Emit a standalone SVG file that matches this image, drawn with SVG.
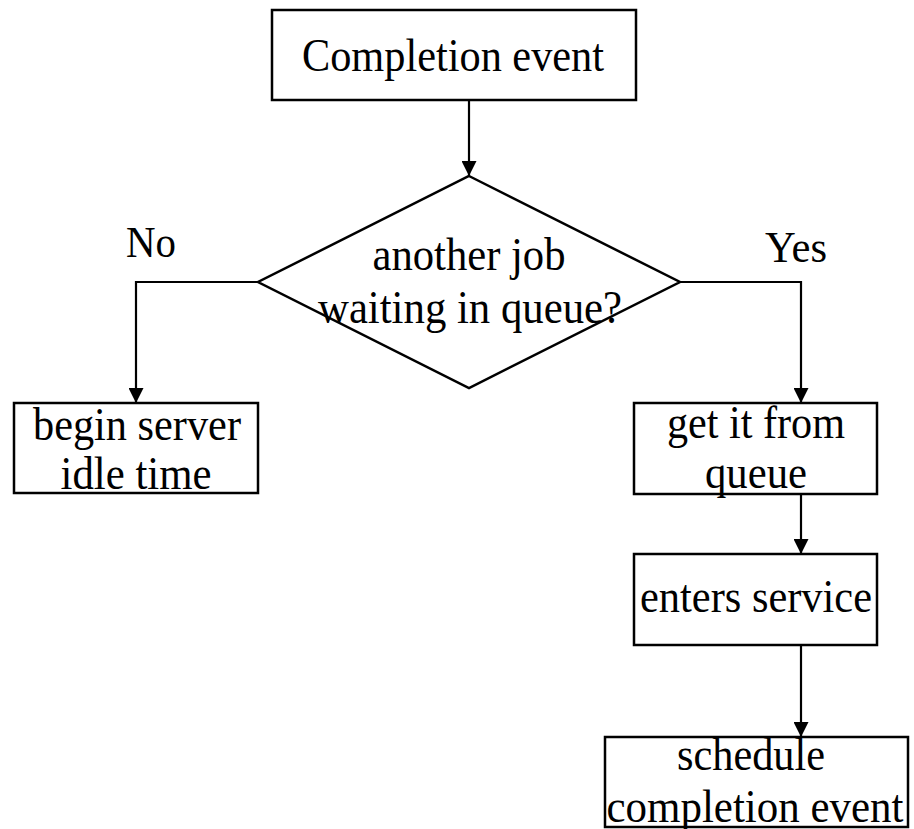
<svg xmlns="http://www.w3.org/2000/svg" width="914" height="829" viewBox="0 0 914 829">
  <style>
    .box { fill: #fff; stroke: #000; stroke-width: 2.5; }
    .lbl { font-family: "Liberation Serif", "Times New Roman", serif; font-size: 46px; fill: #000; text-anchor: middle; }
    .side { font-family: "Liberation Serif", "Times New Roman", serif; font-size: 45px; fill: #000; }
    .edge { fill: none; stroke: #000; stroke-width: 2.2; }
  </style>
  <defs>
    <marker id="arrow" markerUnits="userSpaceOnUse" markerWidth="15" markerHeight="15" refX="15" refY="7.5" orient="auto">
      <path d="M0,0 L15,7.5 L0,15 z" fill="#000"/>
    </marker>
  </defs>
  <rect width="914" height="829" fill="#fff"/>

  <g id="connectors">
    <path class="edge" d="M469,100 V176" marker-end="url(#arrow)"/>
    <path class="edge" d="M258,282 H136 V403" marker-end="url(#arrow)"/>
    <path class="edge" d="M680,282 H801 V403" marker-end="url(#arrow)"/>
    <path class="edge" d="M801,494 V554" marker-end="url(#arrow)"/>
    <path class="edge" d="M801,645 V737" marker-end="url(#arrow)"/>
  </g>

  <g id="completion-event">
    <rect class="box" x="272" y="10" width="364" height="90"/>
    <text class="lbl" x="453" y="71" textLength="302" lengthAdjust="spacingAndGlyphs">Completion event</text>
  </g>

  <g id="decision">
    <polygon class="box" points="469,176 680,282 469,388 258,282"/>
    <text class="lbl" x="469" y="270" textLength="193" lengthAdjust="spacingAndGlyphs">another job</text>
    <text class="lbl" x="470" y="323" textLength="304" lengthAdjust="spacingAndGlyphs">waiting in queue?</text>
  </g>

  <g id="label-no">
    <text class="side" x="126" y="257" textLength="50" lengthAdjust="spacingAndGlyphs">No</text>
  </g>
  <g id="label-yes">
    <text class="side" x="765" y="262" textLength="62" lengthAdjust="spacingAndGlyphs">Yes</text>
  </g>

  <g id="server-idle">
    <rect class="box" x="14" y="403" width="244" height="90"/>
    <text class="lbl" x="137" y="440" textLength="208" lengthAdjust="spacingAndGlyphs">begin server</text>
    <text class="lbl" x="136" y="489" textLength="151" lengthAdjust="spacingAndGlyphs">idle time</text>
  </g>

  <g id="get-from-queue">
    <rect class="box" x="634" y="403" width="243" height="91"/>
    <text class="lbl" x="756" y="438" textLength="178" lengthAdjust="spacingAndGlyphs">get it from</text>
    <text class="lbl" x="756" y="488" textLength="102" lengthAdjust="spacingAndGlyphs">queue</text>
  </g>

  <g id="enters-service">
    <rect class="box" x="634" y="554" width="243" height="91"/>
    <text class="lbl" x="756" y="612" textLength="232" lengthAdjust="spacingAndGlyphs">enters service</text>
  </g>

  <g id="schedule-completion">
    <rect class="box" x="605" y="737" width="303" height="90"/>
    <text class="lbl" x="751" y="770" textLength="148" lengthAdjust="spacingAndGlyphs">schedule</text>
    <text class="lbl" x="755" y="822" textLength="297" lengthAdjust="spacingAndGlyphs">completion event</text>
  </g>
</svg>
